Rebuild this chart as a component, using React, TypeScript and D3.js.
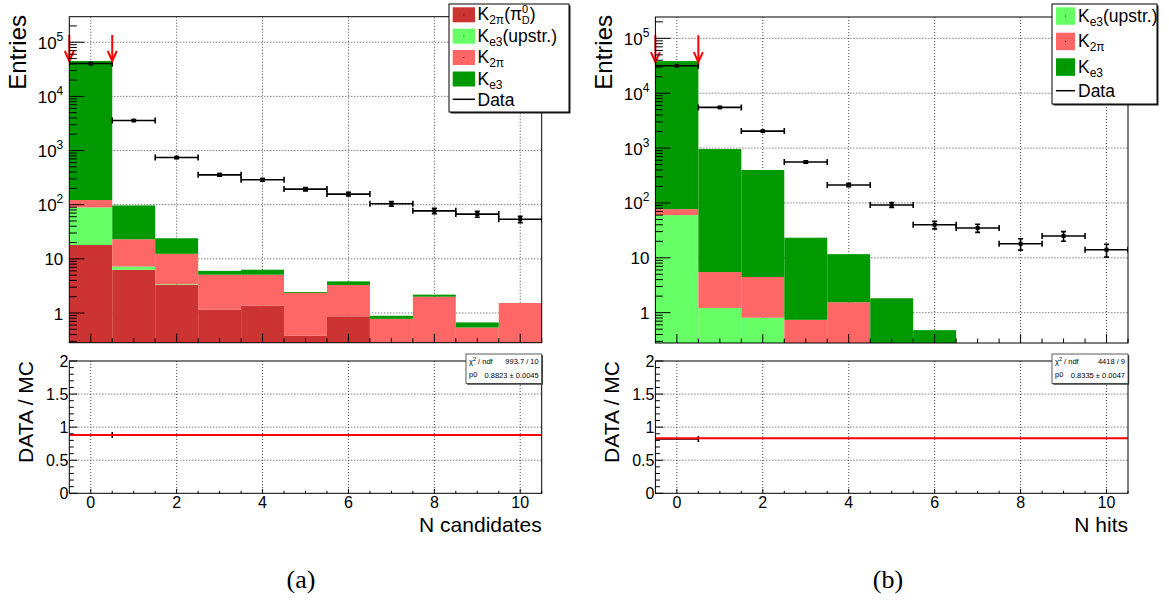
import React from "react";
import * as d3 from "d3";

// ---------- data ----------
const BINS = [0, 1, 2, 3, 4, 5, 6, 7, 8, 9, 10];
const X_TICK_LABELS = [0, 2, 4, 6, 8, 10];
const RATIO_TICK_LABELS = [0, 0.5, 1, 1.5, 2];

// (a) N candidates — stacked MC (bottom to top)
const A_K2PI_PI0D = [18, 6.3, 3.3, 1.15, 1.36, 0.38, 0.87, 0, 0, 0, 0];
const A_KE3_UPSTR = [71, 0.9, 0.1, 0, 0, 0, 0, 0, 0, 0, 0];
const A_K2PI = [33, 15.8, 9.0, 3.95, 3.74, 1.96, 2.43, 0.78, 2.0, 0.54, 1.53];
const A_KE3 = [44880, 74, 11.6, 0.9, 1.2, 0.09, 0.54, 0.11, 0.18, 0.13, 0];
const A_DATA = [40500, 3580, 743, 356, 288, 194, 157, 104, 77, 67, 54];
const A_DATA_ERR = [201, 60, 27, 19, 17, 14, 12.5, 10.2, 8.8, 8.2, 7.3];
const A_RATIO: (number | null)[] = [0.881, null, null, null, null, null, null, null, null, null, null];
const A_RATIO_ERR = [0.006, 0, 0, 0, 0, 0, 0, 0, 0, 0, 0];
const A_FIT_P0 = 0.8823;
const A_FIT_TEXT: [string, string] = ["993.7 / 10", "0.8823 \u00b1 0.0045"];

// (b) N hits — stacked MC (bottom to top)
const B_KE3_UPSTR = [60, 1.22, 0.81, 0, 0, 0, 0, 0, 0, 0, 0];
const B_K2PI = [17, 4.28, 3.66, 0.74, 1.55, 0, 0, 0, 0, 0, 0];
const B_KE3 = [38420, 954, 394, 22.5, 10.1, 1.83, 0.48, 0, 0, 0, 0];
const B_DATA = [31600, 5510, 2040, 556, 212, 92, 40, 35, 18, 25, 14];
const B_DATA_ERR = [178, 74, 45, 24, 15, 9.6, 6.3, 5.9, 4.2, 5, 3.7];
const B_RATIO: (number | null)[] = [0.82, null, null, null, null, null, null, null, null, null, null];
const B_RATIO_ERR = [0.005, 0, 0, 0, 0, 0, 0, 0, 0, 0, 0];
const B_FIT_P0 = 0.8335;
const B_FIT_TEXT: [string, string] = ["4418 / 9", "0.8335 \u00b1 0.0047"];

// ---------- style ----------
const FONT = "'Liberation Sans', Arial, Helvetica, sans-serif";
const SERIF = "'Liberation Serif', 'Times New Roman', serif";
const C_K2PI_PI0D = "#cc3333";
const C_KE3_UP = "#66ff66";
const C_K2PI = "#ff6666";
const C_KE3 = "#009900";
const GRID = { stroke: "#444", strokeDasharray: "1 2", strokeWidth: 1 };

type Layer = { key: string; color: string; values: number[] };

function Label({ k }: { k: string }) {
  if (k === "K2pi_pi0D")
    return (
      <>
        <tspan>K</tspan>
        <tspan dy={4} fontSize={12}>2π</tspan>
        <tspan dy={-4}>(π</tspan>
        <tspan dy={-7} fontSize={11}>0</tspan>
        <tspan dx={-6.5} dy={11} fontSize={11}>D</tspan>
        <tspan dy={-4}>)</tspan>
      </>
    );
  if (k === "Ke3_up")
    return (
      <>
        <tspan>K</tspan>
        <tspan dy={4} fontSize={12}>e3</tspan>
        <tspan dy={-4}>(upstr.)</tspan>
      </>
    );
  if (k === "K2pi")
    return (
      <>
        <tspan>K</tspan>
        <tspan dy={4} fontSize={12}>2π</tspan>
      </>
    );
  if (k === "Ke3")
    return (
      <>
        <tspan>K</tspan>
        <tspan dy={4} fontSize={12}>e3</tspan>
      </>
    );
  return <tspan>Data</tspan>;
}

type LegendSpec = {
  x: number; y: number; w: number; h: number;
  sx: number; sw: number; sh: number; tops: number[]; dataY: number; tx: number;
  keys: string[]; colors: string[];
};

function Legend({ L }: { L: LegendSpec }) {
  return (
    <g fontFamily={FONT} fontSize={17.5}>
      <rect x={L.x + 1.5} y={L.y + 1.5} width={L.w} height={L.h} fill="#222" />
      <rect x={L.x} y={L.y} width={L.w} height={L.h} fill="white" stroke="#000" strokeWidth={1} />
      {L.keys.map((k, i) => (
        <g key={k}>
          <rect x={L.sx} y={L.tops[i]} width={L.sw} height={L.sh} fill={L.colors[i]} />
          <rect x={L.sx + L.sw / 2 - 0.5} y={L.tops[i] + L.sh / 2 - 0.5} width={1} height={1} fill="#333" />
          <text x={L.tx} y={L.tops[i] + L.sh / 2 + 5.5}>
            <Label k={k} />
          </text>
        </g>
      ))}
      <line x1={L.sx} x2={L.sx + L.sw} y1={L.dataY} y2={L.dataY} stroke="#000" strokeWidth={1.5} />
      <text x={L.tx} y={L.dataY + 6.5}>Data</text>
    </g>
  );
}

type PanelSpec = {
  id: string;
  left: number; right: number; top: number; bottom: number;
  rTop: number; rBottom: number;
  yMin: number; yMax: number;
  layers: Layer[];
  data: number[]; dataErr: number[];
  ratio: (number | null)[]; ratioErr: number[];
  fitP0: number; fitText: [string, string];
  arrowTop: number; arrowTip: number;
  xTitle: string; caption: string; captionX: number;
  legend: LegendSpec;
  stat: { x: number; y: number; w: number; h: number };
};

function supLabel(v: number) {
  const e = Math.round(Math.log10(v));
  if (e === 0) return <tspan>1</tspan>;
  if (e === 1) return <tspan>10</tspan>;
  return (
    <>
      <tspan>10</tspan>
      <tspan dy={-8} fontSize={12}>{e}</tspan>
    </>
  );
}

function Panel({ p }: { p: PanelSpec }) {
  const x = d3.scaleLinear().domain([-0.5, 10.5]).range([p.left, p.right]);
  const y = d3.scaleLog().domain([p.yMin, p.yMax]).range([p.bottom, p.top]);
  const yr = d3.scaleLinear().domain([0, 2]).range([p.rBottom, p.rTop]);

  const rows = BINS.map((b, i) => {
    const r: any = { bin: b };
    p.layers.forEach((l) => (r[l.key] = l.values[i]));
    return r;
  });
  const series = d3.stack().keys(p.layers.map((l) => l.key))(rows);

  const lmin = Math.floor(Math.log10(p.yMin));
  const lmax = Math.floor(Math.log10(p.yMax));
  const majors: number[] = [];
  const minors: number[] = [];
  for (let e = lmin; e <= lmax; e++) {
    const m = Math.pow(10, e);
    if (m >= p.yMin && m <= p.yMax) majors.push(m);
    for (let k = 2; k <= 9; k++) {
      const v = k * m;
      if (v >= p.yMin && v <= p.yMax) minors.push(v);
    }
  }
  const xTicks = d3.range(0, 10.51, 0.5);
  const rMinors = d3.range(0, 2.001, 0.1);

  const yv = (v: number) => (v > 0 ? Math.min(y(v), p.bottom + 2) : p.bottom + 2);

  return (
    <g>
      <defs>
        <clipPath id={`clip-${p.id}`}>
          <rect x={p.left} y={p.top} width={p.right - p.left} height={p.bottom - p.top} />
        </clipPath>
        <clipPath id={`rclip-${p.id}`}>
          <rect x={p.left} y={p.rTop} width={p.right - p.left} height={p.rBottom - p.rTop} />
        </clipPath>
      </defs>

      {/* ---- top panel ---- */}
      <g>
        {X_TICK_LABELS.map((t) => (
          <line key={`gx${t}`} x1={x(t)} x2={x(t)} y1={p.top} y2={p.bottom} {...GRID} />
        ))}
        {majors.map((m) => (
          <line key={`gy${m}`} x1={p.left} x2={p.right} y1={y(m)} y2={y(m)} {...GRID} />
        ))}
      </g>
      <g clipPath={`url(#clip-${p.id})`}>
        {series.map((s, j) =>
          s.map((d, i) => {
            const lo = d[0];
            const hi = d[1];
            if (!(hi > lo) || hi <= 0) return null;
            const yt = yv(hi);
            const yb = yv(lo);
            if (yb - yt <= 0) return null;
            return (
              <rect
                key={`${j}-${i}`}
                x={x(BINS[i] - 0.5)}
                width={x(BINS[i] + 0.5) - x(BINS[i] - 0.5)}
                y={yt}
                height={yb - yt}
                fill={p.layers[j].color}
              />
            );
          })
        )}
        {/* data points */}
        {BINS.map((b, i) => {
          const v = p.data[i];
          const e = p.dataErr[i];
          const xl = x(b - 0.5);
          const xr = x(b + 0.5);
          const xc = x(b);
          const yc = y(v);
          const yh = y(v + e);
          const yl = y(Math.max(v - e, p.yMin));
          return (
            <g key={`d${i}`} stroke="#000" strokeWidth={1.6}>
              <line x1={xl} x2={xr} y1={yc} y2={yc} />
              <line x1={xl} x2={xl} y1={yc - 3} y2={yc + 3} />
              <line x1={xr} x2={xr} y1={yc - 3} y2={yc + 3} />
              <line x1={xc} x2={xc} y1={yh} y2={yl} />
              <line x1={xc - 2.5} x2={xc + 2.5} y1={yh} y2={yh} />
              <line x1={xc - 2.5} x2={xc + 2.5} y1={yl} y2={yl} />
              <rect x={xc - 2} y={yc - 2} width={4} height={4} fill="#000" stroke="none" />
            </g>
          );
        })}
      </g>
      {/* arrows */}
      {[-0.5, 0.5].map((ax) => {
        const xa = x(ax);
        const yt = y(p.arrowTop);
        const yp = y(p.arrowTip);
        return (
          <g key={`ar${ax}`} stroke="#ff0000" strokeWidth={2} fill="none">
            <line x1={xa} x2={xa} y1={yt} y2={yp} />
            <polyline points={`${xa - 4.5},${yp - 10} ${xa},${yp} ${xa + 4.5},${yp - 10}`} />
          </g>
        );
      })}
      {/* frame + ticks */}
      <rect x={p.left} y={p.top} width={p.right - p.left} height={p.bottom - p.top} fill="none" stroke="#000" strokeWidth={1} />
      <g stroke="#000" strokeWidth={1}>
        {majors.map((m) => (
          <line key={`ym${m}`} x1={p.left} x2={p.left + 15} y1={y(m)} y2={y(m)} />
        ))}
        {minors.map((m) => (
          <line key={`yn${m}`} x1={p.left} x2={p.left + 7.5} y1={y(m)} y2={y(m)} />
        ))}
        {xTicks.map((t) => {
          const major = Math.abs(t % 2) < 1e-6;
          return <line key={`xt${t}`} x1={x(t)} x2={x(t)} y1={p.bottom} y2={p.bottom - (major ? 9 : 4.5)} />;
        })}
      </g>
      <g fontFamily={FONT} fontSize={17} textAnchor="end">
        {majors.map((m) => (
          <text key={`yl${m}`} x={p.left - 6} y={y(m) + 6.5}>
            {supLabel(m)}
          </text>
        ))}
      </g>
      <text
        transform={`translate(${p.left - 43},15) rotate(-90)`}
        textAnchor="end"
        fontFamily={FONT}
        fontSize={24}
      >
        Entries
      </text>
      <Legend L={p.legend} />

      {/* ---- ratio panel ---- */}
      <g>
        {X_TICK_LABELS.map((t) => (
          <line key={`rgx${t}`} x1={x(t)} x2={x(t)} y1={p.rTop} y2={p.rBottom} {...GRID} />
        ))}
        {[0.5, 1, 1.5].map((t) => (
          <line key={`rgy${t}`} x1={p.left} x2={p.right} y1={yr(t)} y2={yr(t)} {...GRID} />
        ))}
      </g>
      <g clipPath={`url(#rclip-${p.id})`}>
        {BINS.map((b, i) => {
          const r = p.ratio[i];
          if (r == null) return null;
          const xl = x(b - 0.5);
          const xr = x(b + 0.5);
          const yc = yr(r);
          return (
            <g key={`r${i}`} stroke="#000" strokeWidth={1.6}>
              <line x1={xl} x2={xr} y1={yc} y2={yc} />
              <line x1={xr} x2={xr} y1={yc - 3} y2={yc + 3} />
              <line x1={x(b)} x2={x(b)} y1={yr(r + p.ratioErr[i])} y2={yr(r - p.ratioErr[i])} />
            </g>
          );
        })}
        <line x1={p.left} x2={p.right} y1={yr(p.fitP0)} y2={yr(p.fitP0)} stroke="#ff0000" strokeWidth={2} />
      </g>
      <rect x={p.left} y={p.rTop} width={p.right - p.left} height={p.rBottom - p.rTop} fill="none" stroke="#000" strokeWidth={1} />
      <g stroke="#000" strokeWidth={1}>
        {rMinors.map((t) => {
          const major = Math.abs(t * 2 - Math.round(t * 2)) < 1e-6;
          return <line key={`ryt${t.toFixed(1)}`} x1={p.left} x2={p.left + (major ? 8 : 4.5)} y1={yr(t)} y2={yr(t)} />;
        })}
        {xTicks.map((t) => {
          const major = Math.abs(t % 2) < 1e-6;
          return <line key={`rxt${t}`} x1={x(t)} x2={x(t)} y1={p.rBottom} y2={p.rBottom - (major ? 4.5 : 2.5)} />;
        })}
      </g>
      <g fontFamily={FONT} fontSize={16}>
        {RATIO_TICK_LABELS.map((t) => (
          <text key={`ryl${t}`} x={p.left - 1} y={yr(t) + 6} textAnchor="end">
            {String(t)}
          </text>
        ))}
        {X_TICK_LABELS.map((t) => (
          <text key={`rxl${t}`} x={x(t)} y={508} textAnchor="middle">
            {String(t)}
          </text>
        ))}
      </g>
      <text
        transform={`translate(${p.left - 36},${p.rTop}) rotate(-90)`}
        textAnchor="end"
        fontFamily={FONT}
        fontSize={21}
      >
        DATA / MC
      </text>
      <text x={p.right} y={532} textAnchor="end" fontFamily={FONT} fontSize={21}>
        {p.xTitle}
      </text>
      {/* stat box */}
      <g fontFamily={FONT} fontSize={7.5}>
        <rect x={p.stat.x + 1.2} y={p.stat.y + 1.2} width={p.stat.w} height={p.stat.h} fill="#333" />
        <rect x={p.stat.x} y={p.stat.y} width={p.stat.w} height={p.stat.h} fill="white" stroke="#333" strokeWidth={0.8} />
        <text x={p.stat.x + 3} y={p.stat.y + 10}>
          χ<tspan dy={-3} fontSize={5.5}>2</tspan>
          <tspan dy={3}> / ndf</tspan>
        </text>
        <text x={p.stat.x + p.stat.w - 3} y={p.stat.y + 10} textAnchor="end">
          {p.fitText[0]}
        </text>
        <text x={p.stat.x + 3} y={p.stat.y + 23}>p0</text>
        <text x={p.stat.x + p.stat.w - 3} y={p.stat.y + 24} textAnchor="end">
          {p.fitText[1]}
        </text>
      </g>
      <text x={p.captionX} y={588} textAnchor="middle" fontFamily={SERIF} fontSize={26}>
        {p.caption}
      </text>
    </g>
  );
}

const PANEL_A: PanelSpec = {
  id: "a",
  left: 69.3, right: 541.7, top: 16.7, bottom: 342.7,
  rTop: 361, rBottom: 493.3,
  yMin: 0.283, yMax: 2.96e5,
  layers: [
    { key: "K2pi_pi0D", color: C_K2PI_PI0D, values: A_K2PI_PI0D },
    { key: "Ke3_up", color: C_KE3_UP, values: A_KE3_UPSTR },
    { key: "K2pi", color: C_K2PI, values: A_K2PI },
    { key: "Ke3", color: C_KE3, values: A_KE3 },
  ],
  data: A_DATA, dataErr: A_DATA_ERR,
  ratio: A_RATIO, ratioErr: A_RATIO_ERR,
  fitP0: A_FIT_P0, fitText: A_FIT_TEXT,
  arrowTop: 1.36e5, arrowTip: 45000,
  xTitle: "N candidates", caption: "(a)", captionX: 301,
  legend: {
    x: 449, y: 4, w: 120, h: 108,
    sx: 452.7, sw: 22.3, sh: 15, tops: [7.3, 28.7, 50, 71.5], dataY: 99.3, tx: 477.5,
    keys: ["K2pi_pi0D", "Ke3_up", "K2pi", "Ke3"],
    colors: [C_K2PI_PI0D, C_KE3_UP, C_K2PI, C_KE3],
  },
  stat: { x: 466, y: 354, w: 75.7, h: 29.5 },
};

const PANEL_B: PanelSpec = {
  id: "b",
  left: 655.4, right: 1128, top: 17, bottom: 343,
  rTop: 361, rBottom: 493.3,
  yMin: 0.28, yMax: 2.45e5,
  layers: [
    { key: "Ke3_up", color: C_KE3_UP, values: B_KE3_UPSTR },
    { key: "K2pi", color: C_K2PI, values: B_K2PI },
    { key: "Ke3", color: C_KE3, values: B_KE3 },
  ],
  data: B_DATA, dataErr: B_DATA_ERR,
  ratio: B_RATIO, ratioErr: B_RATIO_ERR,
  fitP0: B_FIT_P0, fitText: B_FIT_TEXT,
  arrowTop: 1.14e5, arrowTip: 37000,
  xTitle: "N hits", caption: "(b)", captionX: 888,
  legend: {
    x: 1052, y: 4, w: 105, h: 100,
    sx: 1056, sw: 19, sh: 17.5, tops: [7.3, 32.7, 58.3], dataY: 90.7, tx: 1078,
    keys: ["Ke3_up", "K2pi", "Ke3"],
    colors: [C_KE3_UP, C_K2PI, C_KE3],
  },
  stat: { x: 1052, y: 354, w: 76, h: 29.5 },
};

export default function App() {
  return (
    <svg
      width={1169}
      height={603}
      viewBox="0 0 1169 603"
      style={{ position: "absolute", left: 0, top: 0, background: "white" }}
    >
      <rect x={0} y={0} width={1169} height={603} fill="white" />
      <Panel p={PANEL_A} />
      <Panel p={PANEL_B} />
    </svg>
  );
}
